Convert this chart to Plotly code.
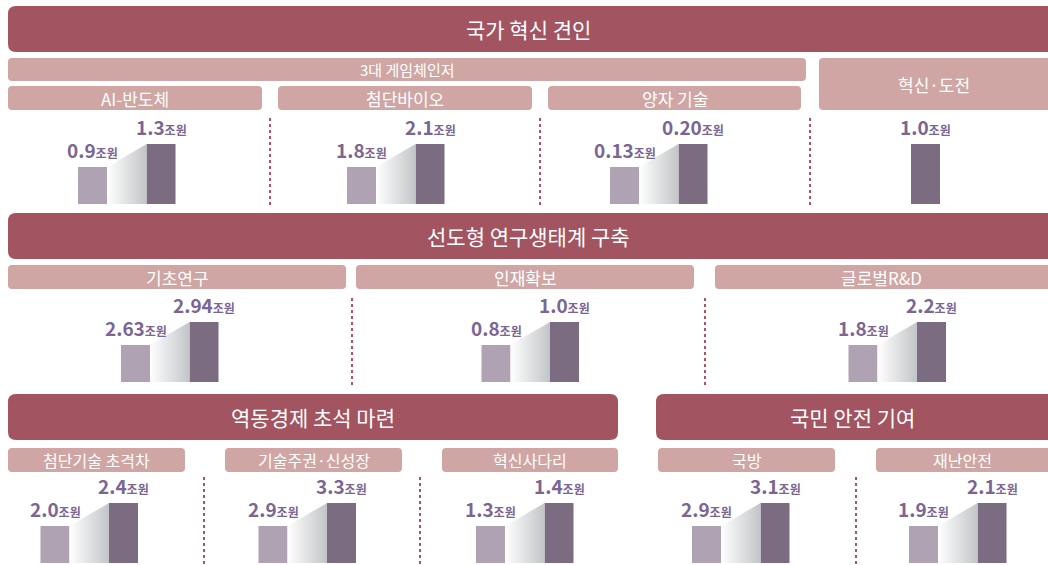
import plotly.graph_objects as go

W, H = 1048, 565

# 항목별 예산 (조원) : 전년 -> 올해
categories = ["AI-반도체", "첨단바이오", "양자 기술", "혁신·도전",
              "기초연구", "인재확보", "글로벌R&D",
              "첨단기술 초격차", "기술주권·신성장", "혁신사다리", "국방", "재난안전"]
prev_values = [0.9, 1.8, 0.13, None, 2.63, 0.8, 1.8, 2.0, 2.9, 1.3, 2.9, 1.9]
curr_values = [1.3, 2.1, 0.20, 1.0, 2.94, 1.0, 2.2, 2.4, 3.3, 1.4, 3.1, 2.1]
prev_labels = ["0.9", "1.8", "0.13", None, "2.63", "0.8", "1.8", "2.0", "2.9", "1.3", "2.9", "1.9"]
curr_labels = ["1.3", "2.1", "0.20", "1.0", "2.94", "1.0", "2.2", "2.4", "3.3", "1.4", "3.1", "2.1"]
unit = "조원"

banners = ["국가 혁신 견인", "선도형 연구생태계 구축", "역동경제 초석 마련", "국민 안전 기여"]
group_label = "3대 게임체인저"

# colours
DARK_RED = "#a25461"
LIGHT_RED = "#cfa6a4"
BAR_LIGHT = "#afa2b3"
BAR_DARK = "#7b6c82"
NUM_COLOR = "#7b6594"
DOT_COLOR = "#b5515f"
FONT = "Noto Sans CJK KR"

# layout in pixels (x of the first bar centre, bar bottom)
PANEL_X = [92.5, 361.5, 624.5, 857, 135.5, 496, 863, 55, 273, 490.5, 706.5, 923.5]
PANEL_BOTTOM = [204] * 4 + [382] * 3 + [563] * 5
STEP = 68.5
BAR_W = 29
TALL = 60
SHORT = 37

# header boxes (x0, x1, y0, y1)
BANNER_BOX = [(8, 1070, 6, 52), (8, 1070, 213, 259), (8, 618, 394, 440), (656, 1070, 394, 440)]
GROUP_BOX = (8, 806, 58, 81)
SUB_BOX = [(8, 262, 86, 110), (278, 532, 86, 110), (548, 801, 86, 110), (819, 1070, 58, 110),
           (8, 346, 265, 289), (356, 694, 265, 289), (715, 1070, 265, 289),
           (8, 185, 448, 472), (225, 402, 448, 472), (442, 618, 448, 472),
           (658, 835, 448, 472), (876, 1070, 448, 472)]
SUB_FONT = [17] * 7 + [16] * 5
DOTS = [(270, 118, 208), (540, 118, 208), (810, 118, 208),
        (352, 298, 386), (705, 298, 386),
        (204, 477, 570), (420, 477, 570), (856, 477, 570)]
VIS_RIGHT = 1048


def round_rect(x0, x1, y0, y1, r):
    return (f"M{x0+r},{y0} L{x1-r},{y0} Q{x1},{y0} {x1},{y0+r} L{x1},{y1-r} "
            f"Q{x1},{y1} {x1-r},{y1} L{x0+r},{y1} Q{x0},{y1} {x0},{y1-r} "
            f"L{x0},{y0+r} Q{x0},{y0} {x0+r},{y0} Z")


def num_text(lab):
    return f"<b>{lab}</b><span style='font-size:12px'><b>{unit}</b></span>"


fig = go.Figure()
shapes = []
annotations = []

# banners
for (x0, x1, y0, y1), txt in zip(BANNER_BOX, banners):
    shapes.append(dict(type="path", path=round_rect(x0, x1, y0, y1, 8), xref="x", yref="y",
                       fillcolor=DARK_RED, line=dict(width=0), layer="below"))
    xc = (x0 + min(x1, VIS_RIGHT)) / 2
    annotations.append(dict(x=xc, y=(y0 + y1) / 2, xref="x", yref="y", text=txt, showarrow=False,
                            font=dict(family=FONT, size=21, color="white")))

x0, x1, y0, y1 = GROUP_BOX
shapes.append(dict(type="path", path=round_rect(x0, x1, y0, y1, 4), xref="x", yref="y",
                   fillcolor=LIGHT_RED, line=dict(width=0), layer="below"))
annotations.append(dict(x=(x0 + x1) / 2, y=(y0 + y1) / 2, xref="x", yref="y", text=group_label,
                        showarrow=False, font=dict(family=FONT, size=15, color="white")))

for (x0, x1, y0, y1), txt, fs in zip(SUB_BOX, categories, SUB_FONT):
    shapes.append(dict(type="path", path=round_rect(x0, x1, y0, y1, 4), xref="x", yref="y",
                       fillcolor=LIGHT_RED, line=dict(width=0), layer="below"))
    xc = (x0 + min(x1, VIS_RIGHT)) / 2
    annotations.append(dict(x=xc, y=(y0 + y1) / 2, xref="x", yref="y", text=txt, showarrow=False,
                            font=dict(family=FONT, size=fs, color="white")))

for x, ya, yb in DOTS:
    shapes.append(dict(type="line", x0=x, x1=x, y0=ya, y1=yb, xref="x", yref="y",
                       line=dict(color=DOT_COLOR, width=2, dash="dot"), layer="below"))

# overlay axis in pixel units
layout_axes = dict(
    xaxis=dict(domain=[0, 1], range=[0, W], visible=False, fixedrange=True),
    yaxis=dict(domain=[0, 1], range=[H, 0], visible=False, fixedrange=True),
)

hw = BAR_W / STEP / 2
r = SHORT / TALL
for i, (p, c) in enumerate(zip(prev_values, curr_values)):
    k = i + 2
    cx = PANEL_X[i]
    b = PANEL_BOTTOM[i]
    lo = 0 if p is None else (p - r * c) / (1 - r)
    layout_axes[f"xaxis{k}"] = dict(domain=[(cx - STEP / 2) / W, (cx + 1.5 * STEP) / W],
                                    range=[-0.5, 1.5], visible=False, fixedrange=True)
    layout_axes[f"yaxis{k}"] = dict(domain=[(H - b) / H, (H - b + TALL) / H],
                                    range=[lo, c], visible=False, fixedrange=True)
    xa, ya = f"x{k}", f"y{k}"
    if p is not None:
        fig.add_trace(go.Scatter(
            x=[hw, hw, 1 - hw, 1 - hw, hw], y=[lo, p, c, lo, lo], mode="lines",
            fill="toself", line=dict(width=0),
            fillgradient=dict(type="horizontal", colorscale=[[0, "rgba(255,255,255,1)"],
                                                             [1, "#c2c5c7"]]),
            xaxis=xa, yaxis=ya, hoverinfo="skip", showlegend=False))
        fig.add_trace(go.Bar(x=[0, 1], y=[p, c], width=BAR_W / STEP,
                             marker=dict(color=[BAR_LIGHT, BAR_DARK], line=dict(width=0)),
                             xaxis=xa, yaxis=ya, hoverinfo="skip", showlegend=False))
        annotations.append(dict(x=0, y=p, xref=xa, yref=ya, yanchor="bottom", yshift=2,
                                showarrow=False, text=num_text(prev_labels[i]),
                                font=dict(family=FONT, size=19, color=NUM_COLOR)))
    else:
        fig.add_trace(go.Bar(x=[1], y=[c], width=BAR_W / STEP,
                             marker=dict(color=BAR_DARK, line=dict(width=0)),
                             xaxis=xa, yaxis=ya, hoverinfo="skip", showlegend=False))
    annotations.append(dict(x=1, y=c, xref=xa, yref=ya, yanchor="bottom", yshift=2,
                            showarrow=False, text=num_text(curr_labels[i]),
                            font=dict(family=FONT, size=19, color=NUM_COLOR)))

fig.update_layout(
    width=W, height=H,
    margin=dict(l=0, r=0, t=0, b=0),
    paper_bgcolor="white", plot_bgcolor="rgba(0,0,0,0)",
    shapes=shapes, annotations=annotations,
    showlegend=False, barmode="overlay",
    font=dict(family=FONT),
    **layout_axes,
)

# figure sits flush with the page corner, no scrollbars
fig.write_html("out.html", config={"displayModeBar": False},
               post_script="document.body.style.margin='0';document.body.style.overflow='hidden';")
